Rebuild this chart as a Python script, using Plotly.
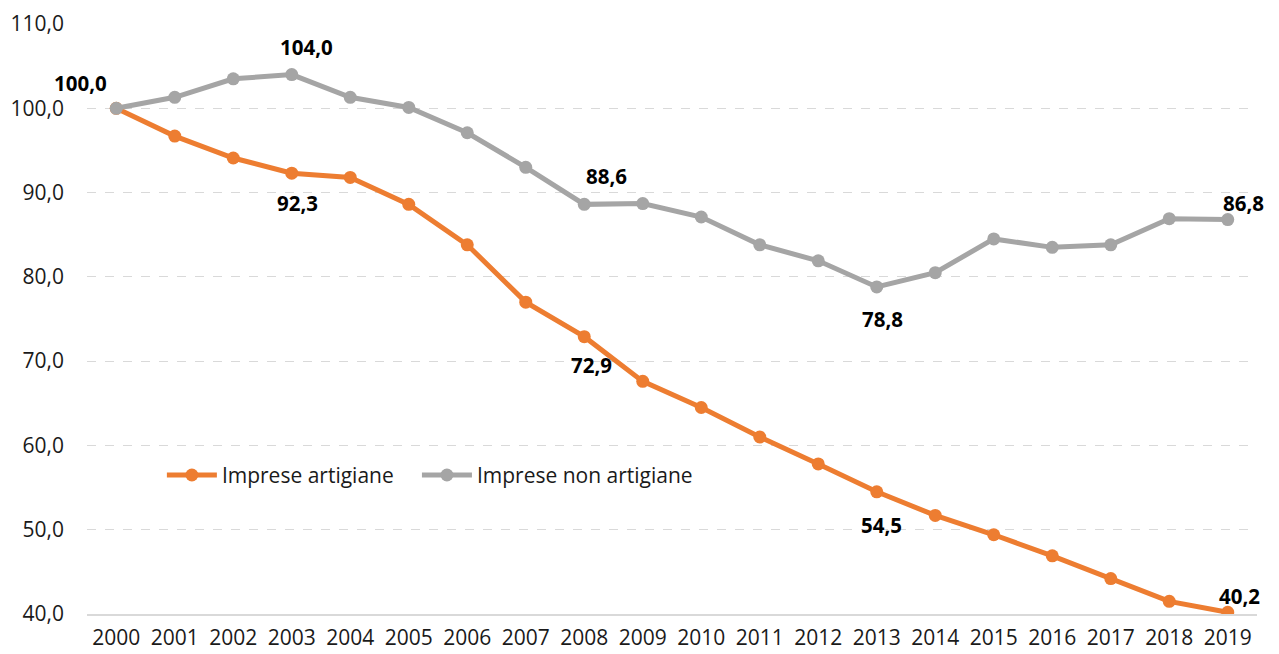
import plotly.graph_objects as go

years = list(range(2000, 2020))
artigiane = [100.0, 96.7, 94.1, 92.3, 91.8, 88.6, 83.8, 77.0, 72.9, 67.6,
             64.5, 61.0, 57.8, 54.5, 51.7, 49.4, 46.9, 44.2, 41.5, 40.2]
non_artigiane = [100.0, 101.3, 103.5, 104.0, 101.3, 100.1, 97.1, 93.0, 88.6, 88.7,
                 87.1, 83.8, 81.9, 78.8, 80.5, 84.5, 83.5, 83.8, 86.9, 86.8]
series_names = ["Imprese artigiane", "Imprese non artigiane"]
y_ticks = [40, 50, 60, 70, 80, 90, 100, 110]

# labelled points: (series index, year index, xshift, yshift)
label_points = [
    (1, 0, -36, 25), (1, 3, 15, 28), (1, 8, 22, 28), (1, 13, 6, -32), (1, 19, 16, 17),
    (0, 3, 6, -30), (0, 8, 7, -28), (0, 13, 5, -33), (0, 19, 12, 16),
]

ORANGE = "#ED7D31"
GREY = "#A5A5A5"
FONT = "Open Sans"
TXT = "#1a1a1a"

fig = go.Figure()
for name, vals, col, lg in [(series_names[0], artigiane, ORANGE, "legend"),
                            (series_names[1], non_artigiane, GREY, "legend2")]:
    fig.add_trace(go.Scatter(
        x=years, y=vals, name=name, mode="lines+markers",
        line=dict(color=col, width=5),
        marker=dict(color=col, size=13),
        legend=lg,
    ))

data = [artigiane, non_artigiane]
for si, yi, dx, dy in label_points:
    v = data[si][yi]
    fig.add_annotation(
        x=years[yi], y=v, xref="x", yref="y",
        text=f"{v:.1f}".replace(".", ","),
        showarrow=False, xshift=dx, yshift=dy,
        font=dict(family=FONT, size=20.5, color="black", weight="bold"),
    )

legend_style = dict(
    orientation="h", y=0.235, xanchor="left", yanchor="middle",
    font=dict(family=FONT, size=21, color=TXT),
    bgcolor="rgba(0,0,0,0)", itemwidth=50, tracegroupgap=0,
)

fig.update_layout(
    width=1271, height=646,
    margin=dict(l=79, r=22, t=16, b=40, autoexpand=False),
    paper_bgcolor="white", plot_bgcolor="white",
    separators=",.",
    font=dict(family=FONT, size=21, color=TXT),
    showlegend=True,
    legend=dict(x=0.064, **legend_style),
    legend2=dict(x=0.282, **legend_style),
    xaxis=dict(
        range=[1999.5, 2019.5], tickvals=years, ticktext=[str(y) for y in years],
        showgrid=False, showline=True, linecolor="#d9d9d9", linewidth=1.5,
        ticks="", zeroline=False, tickfont=dict(size=21, color=TXT), ticklabelstandoff=4,
        automargin=False,
    ),
    yaxis=dict(
        range=[40, 110], tickvals=y_ticks, tickformat=".1f",
        showgrid=True, gridcolor="#d9d9d9", griddash="dash", gridwidth=1.2,
        zeroline=False, showline=False, ticks="", ticklabelstandoff=22,
        tickfont=dict(size=21, color=TXT), automargin=False,
    ),
)

fig.write_html("out.html")
